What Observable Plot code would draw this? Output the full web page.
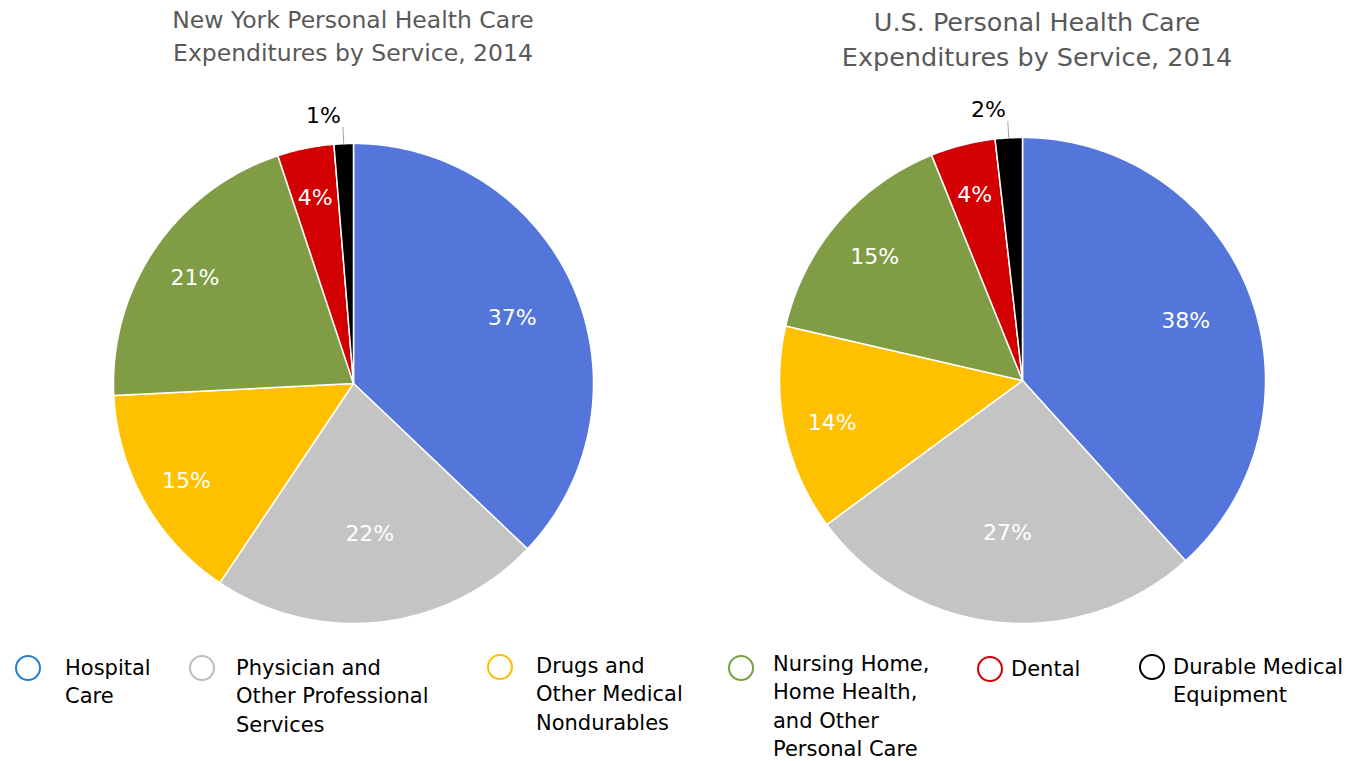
<!DOCTYPE html>
<html><head><meta charset="utf-8">
<script src="https://cdn.jsdelivr.net/npm/d3@7"></script>
<script src="https://cdn.jsdelivr.net/npm/@observablehq/plot@0.6"></script>
<style>
body{margin:0;background:#fff;font-family:"DejaVu Sans",sans-serif;}
#root{position:relative;width:1365px;height:761px;overflow:hidden;background:#fff;}
.title{position:absolute;color:#595959;text-align:center;white-space:nowrap;transform:translateX(-50%);}
.pie{position:absolute;}
.pie svg{overflow:visible;}
.lc{position:absolute;border-radius:50%;box-sizing:border-box;}
.lt{position:absolute;white-space:nowrap;color:#000;font-size:21px;line-height:28.5px;}
</style></head><body><div id="root"></div>
<script>
// ---- data ----
const categories = ["Hospital Care", "Physician and Other Professional Services", "Drugs and Other Medical Nondurables", "Nursing Home, Home Health, and Other Personal Care", "Dental", "Durable Medical Equipment"];
const nyValues = [37.1, 22.3, 14.8, 20.7, 3.8, 1.3];
const usValues = [38.3, 26.6, 13.7, 15.3, 4.3, 1.8];
const nyTitle = ["New York Personal Health Care", "Expenditures by Service, 2014"];
const usTitle = ["U.S. Personal Health Care", "Expenditures by Service, 2014"];
const legendLines = [["Hospital", "Care"], ["Physician and", "Other Professional", "Services"], ["Drugs and", "Other Medical", "Nondurables"], ["Nursing Home,", "Home Health,", "and Other", "Personal Care"], ["Dental"], ["Durable Medical", "Equipment"]];
const sliceColors = ["#5475d9", "#c4c4c4", "#ffc000", "#809d46", "#d20000", "#000000"];
const legendColors = ["#1f7ed0", "#bdbdbd", "#ffc000", "#78a23d", "#d40000", "#000000"];

const root = document.getElementById("root");

function pieChart(values, r, pad, fontSize) {
  const total = d3.sum(values);
  const arcs = d3.pie().sort(null).value(d => d)(values);
  const pts = [], inside = [], leaders = [], outside = [];
  arcs.forEach((a, i) => {
    const cat = categories[i];
    pts.push({cat, x: 0, y: 0});
    const n = Math.max(2, Math.ceil((a.endAngle - a.startAngle) / (Math.PI / 360)));
    for (let k = 0; k <= n; k++) {
      const t = a.startAngle + (a.endAngle - a.startAngle) * k / n;
      pts.push({cat, x: Math.sin(t), y: Math.cos(t)});
    }
    const share = values[i] / total * 100;
    const text = Math.round(share) + "%";
    const mid = (a.startAngle + a.endAngle) / 2;
    if (share >= 3) {
      const f = share >= 30 ? 0.72 : share >= 22 ? 0.62 : 0.8;
      inside.push({x: f * Math.sin(mid), y: f * Math.cos(mid), text});
    } else {
      const f2 = 1.07;
      leaders.push({x1: Math.sin(mid), y1: Math.cos(mid), x2: f2 * Math.sin(mid), y2: f2 * Math.cos(mid)});
      outside.push({x: f2 * Math.sin(mid), y: f2 * Math.cos(mid), text});
    }
  });
  const W = 2 * r + 2 * pad;
  return Plot.plot({
    width: W, height: W, margin: pad,
    x: {domain: [-1, 1], axis: null},
    y: {domain: [-1, 1], axis: null},
    color: {domain: categories, range: sliceColors},
    style: {fontFamily: "DejaVu Sans", background: "transparent", overflow: "visible"},
    marks: [
      Plot.line(pts, {x: "x", y: "y", z: "cat", fill: "cat", stroke: "white", strokeWidth: 1.5, curve: "linear-closed"}),
      Plot.link(leaders, {x1: "x1", y1: "y1", x2: "x2", y2: "y2", stroke: "#a6a6a6", strokeWidth: 1}),
      Plot.text(inside, {x: "x", y: "y", text: "text", fill: "white", fontSize, dy: 3}),
      Plot.text(outside, {x: "x", y: "y", text: "text", fill: "black", fontSize, textAnchor: "end", dx: -2, dy: -11})
    ]
  });
}

function addPie(values, cx, cy, r, pad) {
  const div = document.createElement("div");
  div.className = "pie";
  div.style.left = (cx - r - pad) + "px";
  div.style.top = (cy - r - pad) + "px";
  div.appendChild(pieChart(values, r, pad, 22));
  root.appendChild(div);
}
addPie(nyValues, 353, 383, 240, 50);
addPie(usValues, 1022, 380, 243, 50);

function addTitle(lines, cx, top, size, lh) {
  const d = document.createElement("div");
  d.className = "title";
  d.style.left = cx + "px";
  d.style.top = top + "px";
  d.style.fontSize = size + "px";
  d.style.lineHeight = lh + "px";
  d.innerHTML = lines.join("<br>");
  root.appendChild(d);
}
addTitle(nyTitle, 353, 3.5, 23.5, 33);
addTitle(usTitle, 1037, 4.5, 25.5, 35);

// legend layout (circle centre x, y; text left x, first line centre y)
const legendLayout = [[28, 668, 65, 668], [202, 668, 236, 668], [500, 667, 536, 666], [741, 668, 773, 664], [990, 669, 1011, 669], [1152, 667, 1173, 667]];
legendLines.forEach((lines, i) => {
  const [cx, cy, tx, ty] = legendLayout[i];
  const c = document.createElement("div");
  c.className = "lc";
  c.style.left = (cx - 13) + "px";
  c.style.top = (cy - 13) + "px";
  c.style.width = "26px";
  c.style.height = "26px";
  c.style.border = "2.5px solid " + legendColors[i];
  root.appendChild(c);
  const t = document.createElement("div");
  t.className = "lt";
  t.style.left = tx + "px";
  t.style.top = (ty - 14.25) + "px";
  t.innerHTML = lines.join("<br>");
  root.appendChild(t);
});
</script></body></html>
